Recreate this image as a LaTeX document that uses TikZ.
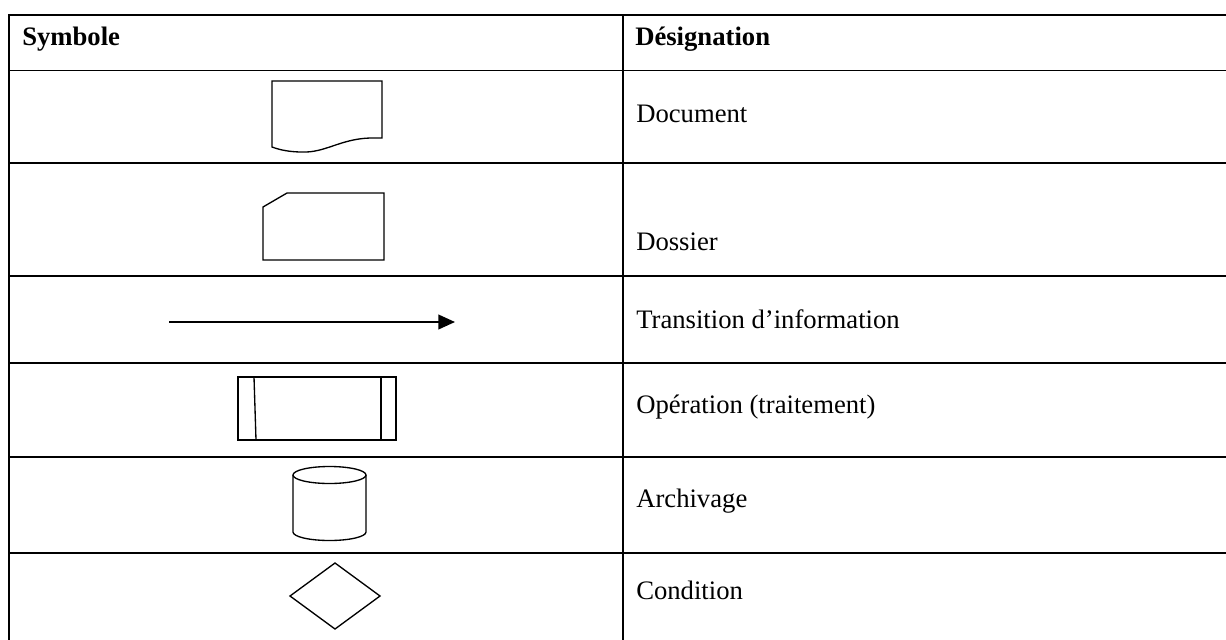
\documentclass[tikz,border=0pt]{standalone}
\usepackage{fontspec}
\setmainfont{Liberation Serif}
\usetikzlibrary{arrows.meta}
\tikzset{
  grid/.style={line width=1.4pt},
  symb/.style={line width=1pt, line join=miter},
  cell/.style={anchor=base west, inner sep=0pt, font=\fontsize{20}{24}\selectfont},
  head/.style={cell, font=\fontsize{20}{24}\selectfont\bfseries},
}
\begin{document}
\begin{tikzpicture}[x=0.75pt,y=-0.75pt]
  \clip (0,0) rectangle (1226,639);
  \fill[white] (0,0) rectangle (1226,639);

  % table rules (table runs past the right and bottom edges)
  \draw[grid] (1240,15) -- (9,15) -- (9,660);
  \draw[grid] (623,15) -- (623,660);
  \foreach \yy in {70.5,163,276,363,457,553}
    \draw[grid] (9,\yy) -- (1240,\yy);

  % headers
  \node[head] (hsym) at (22,45) {Symbole};
  \node[head] (hdes) at (635,45) {Désignation};

  % designations
  \node[cell] (tdoc)  at (636,122) {Document};
  \node[cell] (tdos)  at (636,250) {Dossier};
  \node[cell] (ttra)  at (636,328) {Transition d’information};
  \node[cell] (tope)  at (636,413) {Opération (traitement)};
  \node[cell] (tarc)  at (636,507) {Archivage};
  \node[cell] (tcon)  at (636,599) {Condition};

  % document symbol
  \draw[symb] (272,147) -- (272,81) -- (382,81) -- (382,138) -- (370,138)
    .. controls (340,139) and (325,153) .. (302,152)
    .. controls (290,152) and (280,150) .. (272,147) -- cycle;

  % folder symbol
  \draw[symb] (263,260) -- (263,207) -- (287,193) -- (384,193) -- (384,260) -- cycle;

  % information flow
  \coordinate (fa) at (169,322);
  \coordinate (fb) at (455,322);
  \draw[line width=1.5pt, -{Triangle[length=12.5pt,width=11pt]}] (fa) -- (fb);

  % operation symbol
  \draw[symb] (238,377) rectangle (396,440);
  \draw[symb] (254,377) -- (256,440);
  \draw[symb] (381,377) -- (381,440);

  % storage cylinder
  \draw[symb] (329.5,475) ellipse [x radius=36.5, y radius=8.5];
  \draw[symb] (293,475) -- (293,532)
    arc[start angle=180, end angle=0, x radius=36.5, y radius=8.5] -- (366,475);

  % decision diamond
  \draw[symb] (290,596) -- (335,563) -- (380,596) -- (335,629) -- cycle;
\end{tikzpicture}
\end{document}
